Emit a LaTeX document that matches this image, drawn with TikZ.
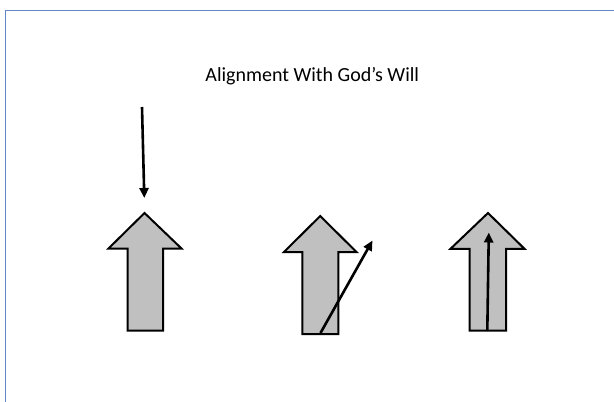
\documentclass[tikz,border=0pt]{standalone}
\usepackage{fontspec}
\setmainfont{Carlito}
\usetikzlibrary{arrows.meta}
\definecolor{frameblue}{RGB}{100,135,200}
\definecolor{blockgray}{RGB}{192,192,192}
\tikzset{
  blockarrow/.style={draw=black, fill=blockgray, line width=2pt, line join=miter},
  thinarrow/.style={draw=black, line width=2.6pt, -{Triangle[length=10pt,width=9pt]}},
  framestyle/.style={draw=frameblue, line width=1pt},
  titlestyle/.style={font=\fontsize{20}{24}\selectfont, text=black, inner sep=0pt}
}
% #1 tip x, #2 tip y, #3 wing left, #4 wing right, #5 shaft left, #6 shaft right, #7 head base y, #8 bottom y
\newcommand{\blkarrow}[8]{%
  \draw[blockarrow] (#1,#2) -- (#4,#7) -- (#6,#7) -- (#6,#8) -- (#5,#8) -- (#5,#7) -- (#3,#7) -- cycle;}
\begin{document}
\begin{tikzpicture}[x=1pt,y=-1pt]
\useasboundingbox (0,0) rectangle (614,402);
\fill[white] (0,0) rectangle (614,402);
% frame
\draw[framestyle] (5.5,402) -- (5.5,10.5) -- (614,10.5);
% title
\node[titlestyle] (title) at (312.3,76) {Alignment With God’s Will};
% block arrows
\blkarrow{144.5}{213}{108.5}{181.5}{127.5}{163}{248.5}{330.5}
\blkarrow{320.2}{216}{284}{356.5}{302.3}{338.3}{252}{334}
\blkarrow{488}{213}{450.5}{524.5}{469.5}{506}{248.8}{330.5}
% connector endpoints
\coordinate (a1s) at (142,107);
\coordinate (a1e) at (144.3,198);
\coordinate (a2s) at (320.5,333);
\coordinate (a2e) at (372.5,240.5);
\coordinate (a3s) at (487.3,331);
\coordinate (a3e) at (488.8,232.5);
\draw[thinarrow] (a1s) -- (a1e);
\draw[thinarrow] (a2s) -- (a2e);
\draw[thinarrow] (a3s) -- (a3e);
\end{tikzpicture}
\end{document}
